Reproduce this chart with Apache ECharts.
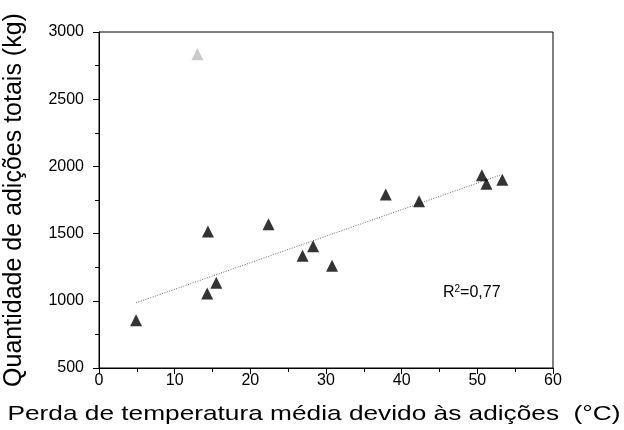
<!DOCTYPE html>
<html>
<head>
<meta charset="utf-8">
<script src="https://cdn.jsdelivr.net/npm/echarts@6/dist/echarts.min.js"></script>
<style>
  html, body { margin: 0; padding: 0; background: #fff; }
  #main { width: 624px; height: 430px; }
</style>
</head>
<body>
<div id="main"></div>
<script>
// perda de temperatura (°C) e quantidade de adições (kg)
var perda = [4.9, 14.4, 14.3, 15.5, 22.4, 26.9, 28.3, 30.8, 37.9, 42.3, 50.6, 51.2, 53.3];
var adicoes = [855, 1515, 1055, 1135, 1570, 1335, 1405, 1260, 1790, 1740, 1935, 1870, 1900];

// ponto fora da tendência (cinza)
var outX = [13.0];
var outY = [2835];

// reta de regressão
var fitX = [4.9, 53.0];
var fitY = [985, 1935];

var xTicks = [0, 60, 10];
var yTicks = [500, 3000, 500];

var xTitle = 'Perda de temperatura média devido às adições  (°C)';
var yTitle = 'Quantidade de adições totais (kg)';
var r2Text = 'R{s|2}=0,77';

function pairs(a, b) {
    var out = [];
    for (var i = 0; i < a.length; i++) out.push([a[i], b[i]]);
    return out;
}

var font = 'Arial, "Liberation Sans", sans-serif';

var myChart = echarts.init(document.getElementById('main'));

option = {
    animation: false,
    textStyle: { fontFamily: font, color: '#000' },
    grid: {
        left: 99,
        right: 71,
        top: 32,
        bottom: 62,
        outerBoundsMode: 'none',
        containLabel: false,
        show: true,
        borderColor: '#000',
        borderWidth: 1
    },
    xAxis: {
        type: 'value',
        min: xTicks[0],
        max: xTicks[1],
        interval: xTicks[2],
        axisLine: { lineStyle: { color: '#000', width: 1 } },
        axisTick: { inside: false, length: 6, lineStyle: { color: '#000' } },
        minorTick: { show: true, splitNumber: 2, length: 4, lineStyle: { color: '#000' } },
        axisLabel: {
            fontSize: 16, color: '#000', margin: 5, fontFamily: font,
            formatter: function (v) { return String(v); }
        },
        splitLine: { show: false }
    },
    yAxis: {
        type: 'value',
        min: yTicks[0],
        max: yTicks[1],
        interval: yTicks[2],
        name: yTitle,
        nameLocation: 'middle',
        nameGap: 72,
        nameTextStyle: { fontSize: 25, color: '#000', fontFamily: font },
        axisLine: { show: true, lineStyle: { color: '#000', width: 1 } },
        axisTick: { show: true, inside: false, length: 6, lineStyle: { color: '#000' } },
        minorTick: { show: true, splitNumber: 2, length: 4, lineStyle: { color: '#000' } },
        axisLabel: {
            fontSize: 16, color: '#000', margin: 15, fontFamily: font,
            formatter: function (v) { return String(v); }
        },
        splitLine: { show: false }
    },
    series: [{
        name: 'ajuste',
        type: 'line',
        data: pairs(fitX, fitY),
        symbol: 'none',
        lineStyle: { color: '#666', width: 1, type: [1, 1.5] },
        z: 1
    }, {
        name: 'dados',
        type: 'scatter',
        data: pairs(perda, adicoes),
        symbol: 'triangle',
        symbolSize: 12,
        itemStyle: { color: '#000' },
        z: 3
    }, {
        name: 'fora',
        type: 'scatter',
        data: pairs(outX, outY),
        symbol: 'triangle',
        symbolSize: 12,
        itemStyle: { color: '#bdbdbd' },
        z: 3
    }],
    graphic: [{
        // título do eixo x, esticado na horizontal como no original
        type: 'text',
        x: 314,
        y: 414,
        scaleX: 1.25,
        style: {
            text: xTitle,
            fontSize: 21,
            fontFamily: font,
            fill: '#000',
            align: 'center',
            verticalAlign: 'middle'
        }
    }, {
        type: 'text',
        left: 443,
        top: 284,
        style: {
            text: r2Text,
            fontSize: 16,
            fontFamily: font,
            fill: '#000',
            rich: {
                s: { fontSize: 10, verticalAlign: 'top', padding: [0, 0, 8, 0], fontFamily: font }
            }
        }
    }]
};

myChart.setOption(option);
</script>
</body>
</html>
